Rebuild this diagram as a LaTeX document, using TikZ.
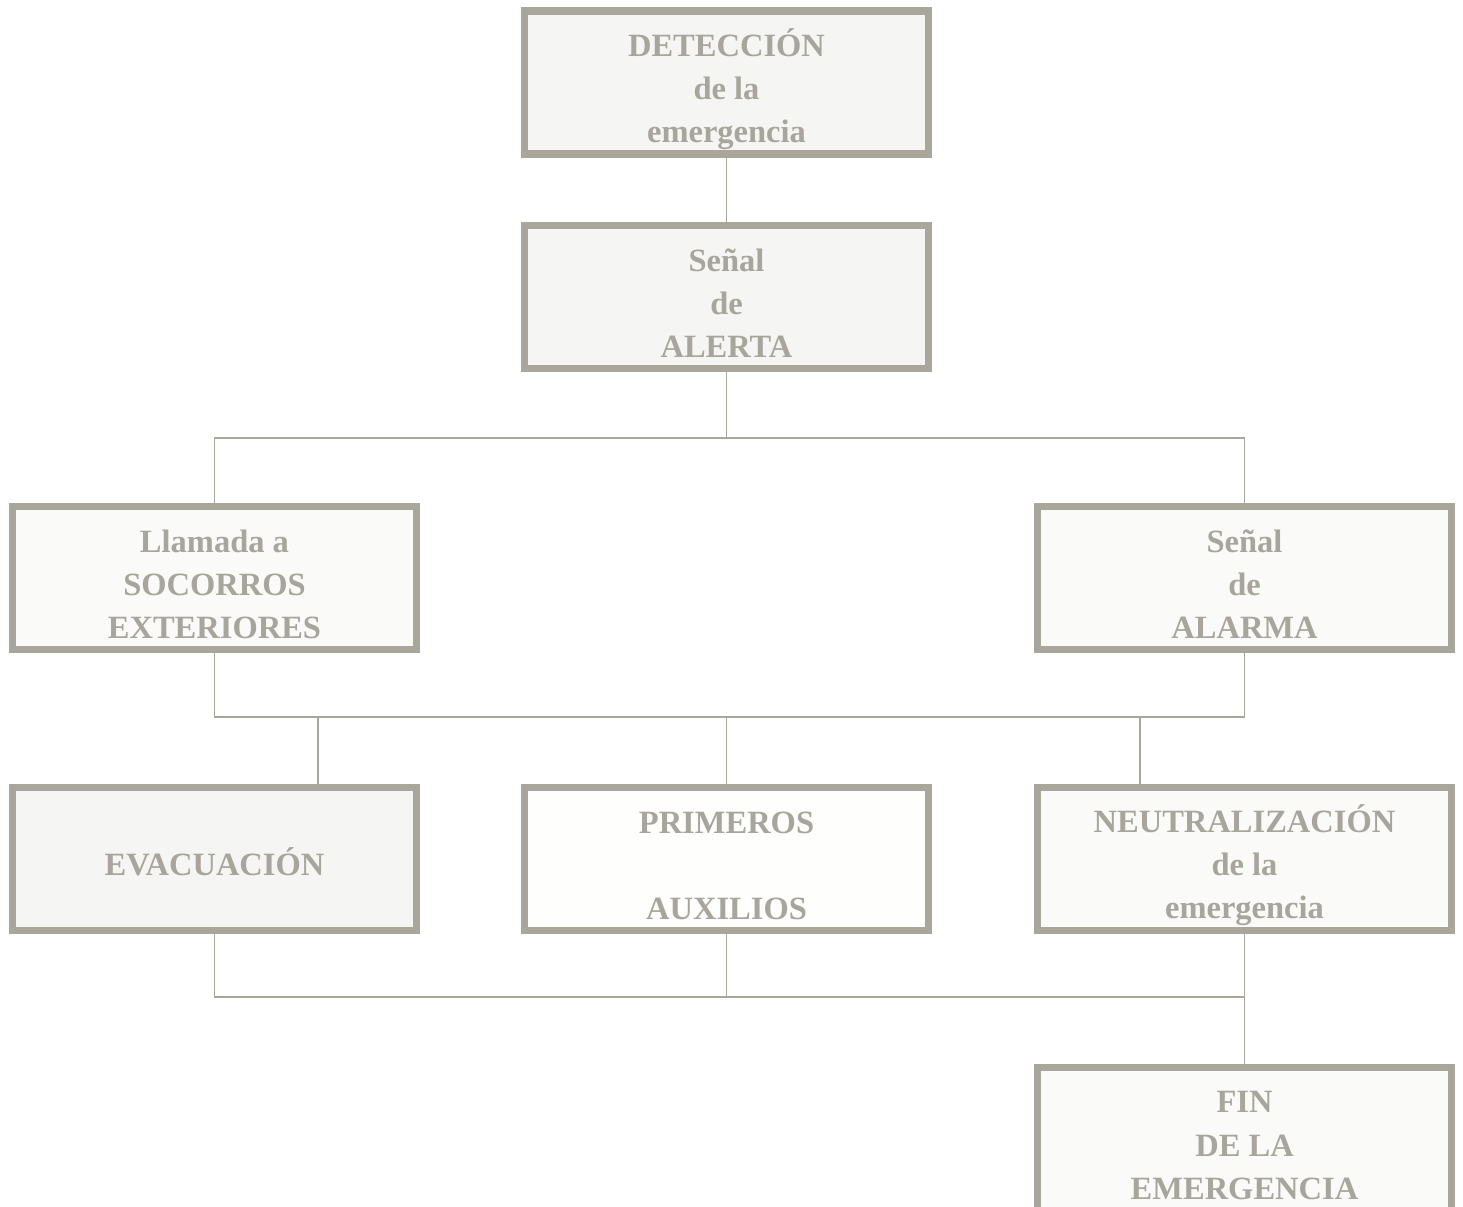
\documentclass[tikz,border=0pt]{standalone}
\usepackage{fontspec}
\setmainfont{Liberation Serif}
\usepackage{tikz}
\usetikzlibrary{positioning}
\definecolor{boxgray}{HTML}{A9A69C}
\definecolor{txtgray}{HTML}{A8A59C}
\definecolor{boxfill}{HTML}{F5F5F3}
\definecolor{boxfilll}{HTML}{FAFAF9}
\tikzset{
    stage/.style = {rectangle, line width=4pt, draw=boxgray, fill=boxfill, minimum width=8.08cm, minimum height=2.86cm},
    stagel/.style = {stage, fill=boxfilll},
    stagew/.style = {stage, minimum width=8.28cm, fill=boxfilll},
    stagetext/.style = {align=center, text=txtgray, yshift=-0.13cm, font=\bfseries\fontsize{18.5}{24.5}\selectfont},
    link/.style = {line width=1.1pt, draw=boxgray},
}

\begin{document}
\begin{tikzpicture}
\useasboundingbox (0,0) rectangle (29.26,-24.12);
\node[stage, label={[stagetext]center:{DETECCIÓN\\de la\\emergencia}}] at (14.53,-1.65) (deteccion) {};
\node[stage, label={[stagetext]center:{Señal\\de\\ALERTA}}] at (14.53,-5.94) (alerta) {};
\node[stagel, label={[stagetext]center:{Llamada a\\SOCORROS\\EXTERIORES}}] at (4.29,-11.56) (llamada) {};
\node[stagew, label={[stagetext]center:{Señal\\de\\ALARMA}}] at (24.89,-11.56) (alarma) {};
\node[stage, label={[stagetext, yshift=0.07cm]center:{EVACUACIÓN}}] at (4.29,-17.18) (evacuacion) {};
\node[stagel, fill=white!70!boxfilll, label={[stagetext]center:{PRIMEROS\\~\\AUXILIOS}}] at (14.53,-17.18) (primeros) {};
\node[stagew, label={[stagetext]center:{NEUTRALIZACIÓN\\de la\\emergencia}}] at (24.89,-17.18) (neutra) {};
\node[stagew, label={[stagetext]center:{FIN\\DE LA\\EMERGENCIA}}] at (24.89,-22.78) (fin) {};
%
\coordinate (j1) at (14.53,-8.76);
\coordinate (j2) at (14.53,-14.34);
\coordinate (j3) at (14.53,-19.94);
\coordinate (d1) at (6.36,-14.34);
\coordinate (d3) at (22.80,-14.34);
%
\draw[link] (deteccion) -- (alerta);
\draw[link] (alerta) -- (j1);
\draw[link] (llamada) |- (j1) -| (alarma);
\draw[link] (llamada) |- (j2) -| (alarma);
\draw[link] (d1) -- (d1 |- evacuacion.north);
\draw[link] (j2) -- (primeros);
\draw[link] (d3) -- (d3 |- neutra.north);
\draw[link] (evacuacion) |- (neutra |- j3);
\draw[link] (primeros) -- (j3);
\draw[link] (neutra) -- (fin);

\end{tikzpicture}
\end{document}
